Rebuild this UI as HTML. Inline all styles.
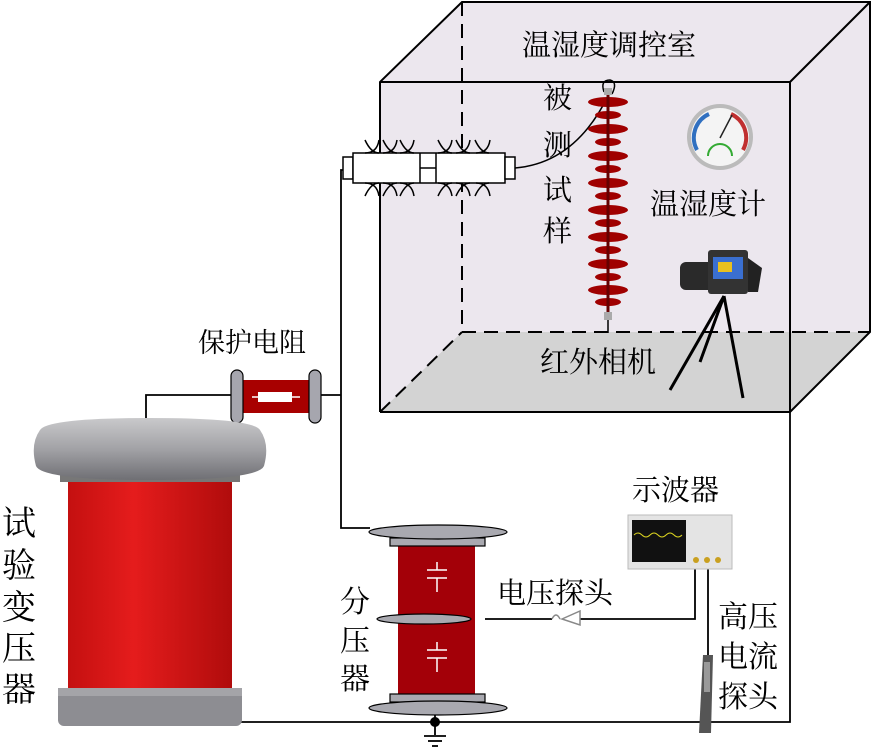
<!DOCTYPE html>
<html><head><meta charset="utf-8"><style>
html,body{margin:0;padding:0;background:#fff;}
svg{display:block}
text{font-family:"Liberation Serif","Noto Serif CJK SC","Noto Sans CJK SC",serif;fill:#000;}
</style></head><body>
<svg width="872" height="750" viewBox="0 0 872 750" xmlns="http://www.w3.org/2000/svg">
<defs>
<linearGradient id="metal" x1="0" y1="0" x2="0" y2="1">
<stop offset="0" stop-color="#c9c9cb"/><stop offset="0.5" stop-color="#a2a2a6"/><stop offset="1" stop-color="#6f6f74"/>
</linearGradient>
<linearGradient id="redc" x1="0" y1="0" x2="1" y2="0">
<stop offset="0" stop-color="#c41010"/><stop offset="0.4" stop-color="#e51c1c"/><stop offset="1" stop-color="#b00c0c"/>
</linearGradient>
</defs>
<!-- chamber -->
<polygon points="380,82 462,2 870,2 870,332 790,412 380,412" fill="#ece7ee"/>
<polygon points="380,412 462,332 870,332 790,412" fill="#d3d3d3"/>
<polyline points="380,412 380,82 462,2 870,2 870,332 790,412 380,412" fill="none" stroke="#000" stroke-width="2"/>
<polyline points="380,82 790,82 790,412" fill="none" stroke="#000" stroke-width="2"/>
<line x1="790" y1="82" x2="870" y2="2" stroke="#000" stroke-width="2"/>
<line x1="462" y1="2" x2="462" y2="332" stroke="#000" stroke-width="2" stroke-dasharray="14,8"/>
<line x1="462" y1="332" x2="870" y2="332" stroke="#000" stroke-width="2" stroke-dasharray="14,8"/>
<line x1="380" y1="412" x2="462" y2="332" stroke="#000" stroke-width="2" stroke-dasharray="14,8"/>
<text x="522" y="55" font-size="29">温湿度调控室</text>

<!-- horizontal bushing -->
<g fill="#fff" stroke="#000" stroke-width="1.5">
<rect x="343" y="157" width="10" height="22"/>
<rect x="353" y="153" width="152" height="30"/>
<rect x="505" y="157" width="10" height="22"/>
</g>
<g fill="none" stroke="#000" stroke-width="1.5">
<path d="M365,140 q6,13 14,13 M379,140 q-2,13 -14,13 M365,196 q6,-13 14,-13 M379,196 q-2,-13 -14,-13"/>
<path d="M383,140 q6,13 14,13 M397,140 q-2,13 -14,13 M383,196 q6,-13 14,-13 M397,196 q-2,-13 -14,-13"/>
<path d="M400,140 q6,13 14,13 M414,140 q-2,13 -14,13 M400,196 q6,-13 14,-13 M414,196 q-2,-13 -14,-13"/>
<path d="M438,140 q6,13 14,13 M452,140 q-2,13 -14,13 M438,196 q6,-13 14,-13 M452,196 q-2,-13 -14,-13"/>
<path d="M456,140 q6,13 14,13 M470,140 q-2,13 -14,13 M456,196 q6,-13 14,-13 M470,196 q-2,-13 -14,-13"/>
<path d="M475,140 q6,13 14,13 M490,140 q-2,13 -14,13 M475,196 q6,-13 14,-13 M490,196 q-2,-13 -14,-13"/>
<line x1="420" y1="153" x2="420" y2="183"/><line x1="436" y1="153" x2="436" y2="183"/>
<line x1="420" y1="168" x2="436" y2="168"/>
<path d="M515,168 q60,-5 93,-72"/>
<path d="M604,92 q-4,-12 6,-12 q8,2 2,14"/>
</g>

<!-- vertical insulator -->
<g fill="#a00000">
<ellipse cx="608" cy="102" rx="20" ry="5"/><ellipse cx="608" cy="115" rx="13" ry="4"/>
<ellipse cx="608" cy="129" rx="20" ry="5"/><ellipse cx="608" cy="142" rx="13" ry="4"/>
<ellipse cx="608" cy="156" rx="20" ry="5"/><ellipse cx="608" cy="169" rx="13" ry="4"/>
<ellipse cx="608" cy="183" rx="20" ry="5"/><ellipse cx="608" cy="196" rx="13" ry="4"/>
<ellipse cx="608" cy="210" rx="20" ry="5"/><ellipse cx="608" cy="223" rx="13" ry="4"/>
<ellipse cx="608" cy="237" rx="20" ry="5"/><ellipse cx="608" cy="250" rx="13" ry="4"/>
<ellipse cx="608" cy="264" rx="20" ry="5"/><ellipse cx="608" cy="277" rx="13" ry="4"/>
<ellipse cx="608" cy="290" rx="20" ry="5"/><ellipse cx="608" cy="302" rx="13" ry="4"/>
</g>
<line x1="608" y1="92" x2="608" y2="312" stroke="#600" stroke-width="3"/>
<rect x="604" y="88" width="8" height="7" fill="#aaa"/>
<rect x="604" y="312" width="8" height="8" fill="#aaa"/>
<line x1="608" y1="320" x2="608" y2="333" stroke="#000" stroke-width="1.5"/>
<g font-size="29"><text x="543" y="108">被</text><text x="543" y="155">测</text><text x="543" y="200">试</text><text x="543" y="241">样</text></g>

<!-- hygrometer -->
<circle cx="720" cy="137" r="33" fill="#bbb"/>
<circle cx="720" cy="137" r="29" fill="#f4f4f4"/>
<path d="M697,150 a26,26 0 0 1 12,-36" fill="none" stroke="#3070c0" stroke-width="4"/>
<path d="M731,114 a26,26 0 0 1 12,36" fill="none" stroke="#c03030" stroke-width="4"/>
<line x1="720" y1="138" x2="732" y2="115" stroke="#222" stroke-width="1.5"/>
<path d="M708,156 a12,12 0 0 1 24,0" fill="none" stroke="#3a3" stroke-width="2"/>
<text x="650" y="214" font-size="29">温湿度计</text>

<!-- camera -->
<rect x="680" y="262" width="34" height="28" rx="6" fill="#2a2a2a"/>
<rect x="708" y="250" width="40" height="44" rx="3" fill="#333"/>
<rect x="713" y="257" width="30" height="22" fill="#3a6fd0"/>
<rect x="718" y="262" width="14" height="10" fill="#e8c020"/>
<path d="M748,258 l14,10 l-4,24 l-10,0z" fill="#222"/>
<g stroke="#000" stroke-width="3"><line x1="724" y1="296" x2="670" y2="390"/><line x1="724" y1="296" x2="700" y2="362"/><line x1="724" y1="296" x2="743" y2="398"/></g>
<text x="540" y="372" font-size="29">红外相机</text>

<!-- wires -->
<g fill="none" stroke="#000" stroke-width="1.8">
<polyline points="343,170 341,170 341,528 370,528"/>
<polyline points="320,395 341,395"/>
<polyline points="146,422 146,395 231,395"/>
<polyline points="240,722 790,722 790,412"/>
<polyline points="485,619 552,619"/>
<polyline points="580,619 695,619 695,568"/>
<line x1="708" y1="568" x2="708" y2="655"/>
<line x1="435" y1="712" x2="435" y2="735"/>
<line x1="424" y1="736" x2="446" y2="736"/><line x1="428" y1="741" x2="442" y2="741"/><line x1="432" y1="746" x2="438" y2="746"/>
</g>
<circle cx="435" cy="722" r="5" fill="#000"/>
<!-- probe connector -->
<path d="M552,619 q4,-8 8,0 M562,619 l18,-8 l0,14z" fill="none" stroke="#888" stroke-width="1.5"/>

<!-- resistor -->
<rect x="241" y="380" width="70" height="33" fill="#a80000"/>
<rect x="258" y="392" width="34" height="10" fill="#fff"/>
<line x1="252" y1="397" x2="300" y2="397" stroke="#fff" stroke-width="1.5"/>
<rect x="231" y="370" width="12" height="53" rx="6" fill="#a6a6ae" stroke="#000" stroke-width="1.2"/>
<rect x="309" y="370" width="12" height="53" rx="6" fill="#a6a6ae" stroke="#000" stroke-width="1.2"/>
<text x="198" y="352" font-size="27">保护电阻</text>

<!-- transformer -->
<rect x="68" y="480" width="164" height="222" fill="url(#redc)"/>
<rect x="60" y="470" width="180" height="12" fill="#777"/>
<path d="M40,430 q8,-12 110,-12 q102,0 110,12 q10,14 4,36 q-6,14 -114,14 q-108,0 -114,-14 q-6,-22 4,-36z" fill="url(#metal)"/>
<rect x="58" y="688" width="184" height="38" rx="6" fill="#8d8d92"/>
<rect x="58" y="688" width="184" height="8" fill="#a4a4a8"/>
<g font-size="34"><text x="2" y="535">试</text><text x="2" y="577">验</text><text x="2" y="619">变</text><text x="2" y="660">压</text><text x="2" y="701">器</text></g>

<!-- divider -->
<rect x="398" y="545" width="77" height="150" fill="#a30008"/>
<g stroke="#fff" stroke-width="1.5"><line x1="427" y1="570" x2="447" y2="570"/><line x1="427" y1="578" x2="447" y2="578"/><line x1="437" y1="578" x2="437" y2="592"/><line x1="437" y1="562" x2="437" y2="570"/>
<line x1="427" y1="650" x2="447" y2="650"/><line x1="427" y1="658" x2="447" y2="658"/><line x1="437" y1="658" x2="437" y2="672"/><line x1="437" y1="642" x2="437" y2="650"/></g>
<g fill="#a9a9b0" stroke="#000" stroke-width="1.2">
<rect x="390" y="538" width="95" height="8"/>
<ellipse cx="438" cy="532" rx="69" ry="7"/>
<ellipse cx="424" cy="619" rx="47" ry="5"/>
<rect x="390" y="694" width="95" height="8"/>
<ellipse cx="438" cy="708" rx="69" ry="7"/>
</g>
<g font-size="30"><text x="340" y="612">分</text><text x="340" y="651">压</text><text x="340" y="689">器</text></g>
<text x="497" y="603" font-size="29">电压探头</text>

<!-- oscilloscope -->
<rect x="628" y="515" width="104" height="54" fill="#e4e4e4" stroke="#bbb"/>
<rect x="632" y="520" width="54" height="42" fill="#111"/>
<path d="M634,535 q4,-4 8,0 t8,0 t8,0 t8,0 t8,0 t8,0" fill="none" stroke="#d8d020" stroke-width="1"/>
<g fill="#c9a020"><circle cx="696" cy="560" r="3"/><circle cx="707" cy="560" r="3"/><circle cx="718" cy="560" r="3"/></g>
<text x="632" y="500" font-size="29">示波器</text>

<!-- current probe -->
<path d="M703,655 l10,0 l-2,78 l-12,0z" fill="#555"/>
<rect x="704" y="662" width="6" height="30" fill="#999"/>
<g font-size="30"><text x="718" y="627">高压</text><text x="718" y="667">电流</text><text x="718" y="707">探头</text></g>
</svg>
</body></html>
